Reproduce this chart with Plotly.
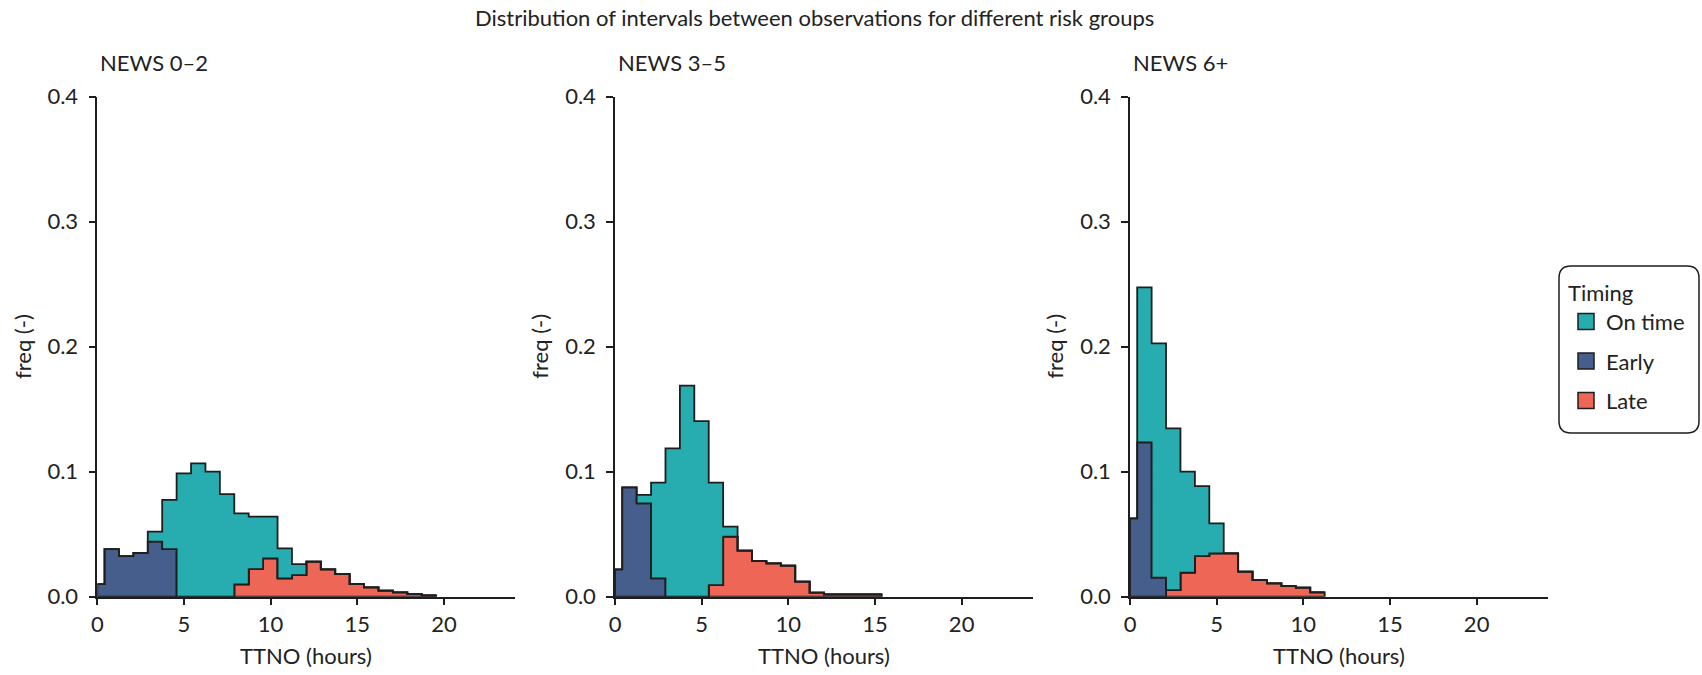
import plotly.graph_objects as go

# ---------------- data ----------------
BIN_WIDTH = 0.832          # hours; bins centred on multiples of the width
panel_titles = ["NEWS 0–2", "NEWS 3–5", "NEWS 6+"]
group_names = ["On time", "Early", "Late"]
group_colors = {"On time": "#27ADB0", "Early": "#465E8B", "Late": "#EE6656"}

x_ticks = [0, 5, 10, 15, 20]
y_ticks = [0.0, 0.1, 0.2, 0.3, 0.4]
y_ticklabels = ["0.0", "0.1", "0.2", "0.3", "0.4"]

# frequencies per bin (bin k is centred on k * BIN_WIDTH)
news02_early = [0.010, 0.038, 0.0325, 0.035, 0.044, 0.038]
news02_ontime = [0, 0, 0, 0, 0.008, 0.0394, 0.0987, 0.1067, 0.100, 0.0821,
                 0.0568, 0.0419, 0.0333, 0.024, 0.0088]
news02_late = [0, 0, 0, 0, 0, 0, 0, 0, 0, 0,
               0.0099, 0.0221, 0.0307, 0.0147, 0.0173, 0.028, 0.0219, 0.0181,
               0.0101, 0.0075, 0.0048, 0.0035, 0.0021, 0.0011]

news35_early = [0.0219, 0.0875, 0.0747, 0.0147]
news35_ontime = [0, 0, 0.0067, 0.0765, 0.1187, 0.1688, 0.1405, 0.0819, 0.008]
news35_late = [0, 0, 0, 0, 0, 0, 0, 0.0093, 0.048, 0.0368, 0.0285, 0.0267,
               0.0248, 0.012, 0.0032, 0.0019, 0.0019, 0.0019, 0.0019]

news6_early = [0.0627, 0.1235, 0.0152]
news6_ontime = [0, 0.124, 0.1875, 0.1294, 0.0808, 0.056, 0.024]
news6_late = [0, 0, 0, 0.0053, 0.0192, 0.0325, 0.0347, 0.0347, 0.020, 0.0133,
              0.0107, 0.0085, 0.0072, 0.0035]

panel_data = [
    {"On time": news02_ontime, "Early": news02_early, "Late": news02_late},
    {"On time": news35_ontime, "Early": news35_early, "Late": news35_late},
    {"On time": news6_ontime, "Early": news6_early, "Late": news6_late},
]

# ---------------- layout geometry (pixels) ----------------
W, H = 1702, 675
X_RANGE = [0, 24.1]
x_dom_px = [(97.3, 515.0), (615.0, 1032.7), (1130.0, 1547.7)]
y_dom_px = (596.7, 96.7)
INK = "#1e1e1e"
TXT = "#222222"
FONT = "Lato"


def px_x(p):
    return p / W


def px_y(p):
    return 1 - p / H


def step_polygon(edges, bottom, top):
    xs, ys = [], []
    n = len(top)
    for i in range(n):
        xs += [edges[i], edges[i + 1]]
        ys += [top[i], top[i]]
    for i in reversed(range(n)):
        xs += [edges[i + 1], edges[i]]
        ys += [bottom[i], bottom[i]]
    xs.append(xs[0])
    ys.append(ys[0])
    return xs, ys


fig = go.Figure()

stack_order = ["Late", "Early", "On time"]  # bottom to top
for p, data in enumerate(panel_data):
    n = max(len(v) for v in data.values())
    edges = [max(0.0, (k - 0.5) * BIN_WIDTH) for k in range(n + 1)]
    base = [0.0] * n
    axis_suffix = "" if p == 0 else str(p + 1)
    for g in stack_order:
        vals = list(data[g]) + [0.0] * (n - len(data[g]))
        top = [b + v for b, v in zip(base, vals)]
        xs, ys = step_polygon(edges, base, top)
        fig.add_trace(go.Scatter(
            x=xs, y=ys, mode="lines", fill="toself",
            fillcolor=group_colors[g],
            line=dict(color=INK, width=1.8),
            showlegend=False, hoverinfo="skip",
            xaxis="x" + axis_suffix, yaxis="y" + axis_suffix,
        ))
        base = top

# legend entries (square swatches)
for g in group_names:
    fig.add_trace(go.Scatter(
        x=[None], y=[None], name=g, legendgroup=g, mode="markers",
        marker=dict(symbol="square", size=16, color=group_colors[g],
                    line=dict(color=INK, width=1.5)),
        xaxis="x3", yaxis="y3",
    ))

axis_common = dict(
    showline=True, linecolor=INK, linewidth=1.5,
    ticks="outside", ticklen=7, tickwidth=1.5, tickcolor=INK,
    showgrid=False, zeroline=False, automargin=False,
    tickfont=dict(family=FONT, size=22, color=TXT),
)

layout = dict(
    template="none",
    width=W, height=H,
    margin=dict(l=0, r=0, t=0, b=0, pad=0),
    paper_bgcolor="white", plot_bgcolor="white",
    font=dict(family=FONT, size=22, color=TXT),
    showlegend=True,
    hovermode=False,
    legend=dict(
        x=px_x(1566), y=px_y(272), xanchor="left", yanchor="top",
        bgcolor="rgba(0,0,0,0)", borderwidth=0,
        title=dict(text="Timing", font=dict(family=FONT, size=22, color=TXT)),
        font=dict(family=FONT, size=22, color=TXT),
        tracegroupgap=8,
    ),
)

annotations = [
    dict(text="Distribution of intervals between observations for different risk groups",
         x=px_x(814), y=px_y(17), xref="paper", yref="paper",
         xanchor="center", yanchor="middle", showarrow=False,
         font=dict(family=FONT, size=22, color=TXT)),
]

for p in range(3):
    sfx = "" if p == 0 else str(p + 1)
    x0, x1 = x_dom_px[p]
    layout["xaxis" + sfx] = dict(
        domain=[px_x(x0), px_x(x1)], range=X_RANGE, anchor="y" + sfx,
        tickvals=x_ticks, **axis_common)
    layout["yaxis" + sfx] = dict(
        domain=[px_y(y_dom_px[0]), px_y(y_dom_px[1])], range=[0, 0.4],
        anchor="x" + sfx, tickvals=y_ticks, ticktext=y_ticklabels,
        ticklabelstandoff=6, **axis_common)
    annotations.append(dict(
        text=panel_titles[p], x=px_x(x0 + 0.5), y=px_y(62), xref="paper", yref="paper",
        xanchor="left", yanchor="middle", showarrow=False,
        font=dict(family=FONT, size=22, color=TXT)))
    annotations.append(dict(
        text="freq (-)", x=px_x(x0 - 75), y=px_y(346.7), xref="paper", yref="paper",
        xanchor="center", yanchor="middle", textangle=-90, showarrow=False,
        font=dict(family=FONT, size=22, color=TXT)))
    annotations.append(dict(
        text="TTNO (hours)", x=px_x((x0 + x1) / 2), y=px_y(655), xref="paper", yref="paper",
        xanchor="center", yanchor="middle", showarrow=False,
        font=dict(family=FONT, size=22, color=TXT)))

layout["annotations"] = annotations

# rounded frame around the legend
bx0, bx1, by0, by1, r = 1559, 1699, 266, 433, 12
path = (f"M {px_x(bx0 + r)},{px_y(by0)} L {px_x(bx1 - r)},{px_y(by0)} "
        f"Q {px_x(bx1)},{px_y(by0)} {px_x(bx1)},{px_y(by0 + r)} "
        f"L {px_x(bx1)},{px_y(by1 - r)} Q {px_x(bx1)},{px_y(by1)} {px_x(bx1 - r)},{px_y(by1)} "
        f"L {px_x(bx0 + r)},{px_y(by1)} Q {px_x(bx0)},{px_y(by1)} {px_x(bx0)},{px_y(by1 - r)} "
        f"L {px_x(bx0)},{px_y(by0 + r)} Q {px_x(bx0)},{px_y(by0)} {px_x(bx0 + r)},{px_y(by0)} Z")
layout["shapes"] = [dict(type="path", path=path, xref="paper", yref="paper",
                         line=dict(color=INK, width=1.5), fillcolor="rgba(0,0,0,0)")]

fig.update_layout(**layout)
fig.write_html("out.html")
